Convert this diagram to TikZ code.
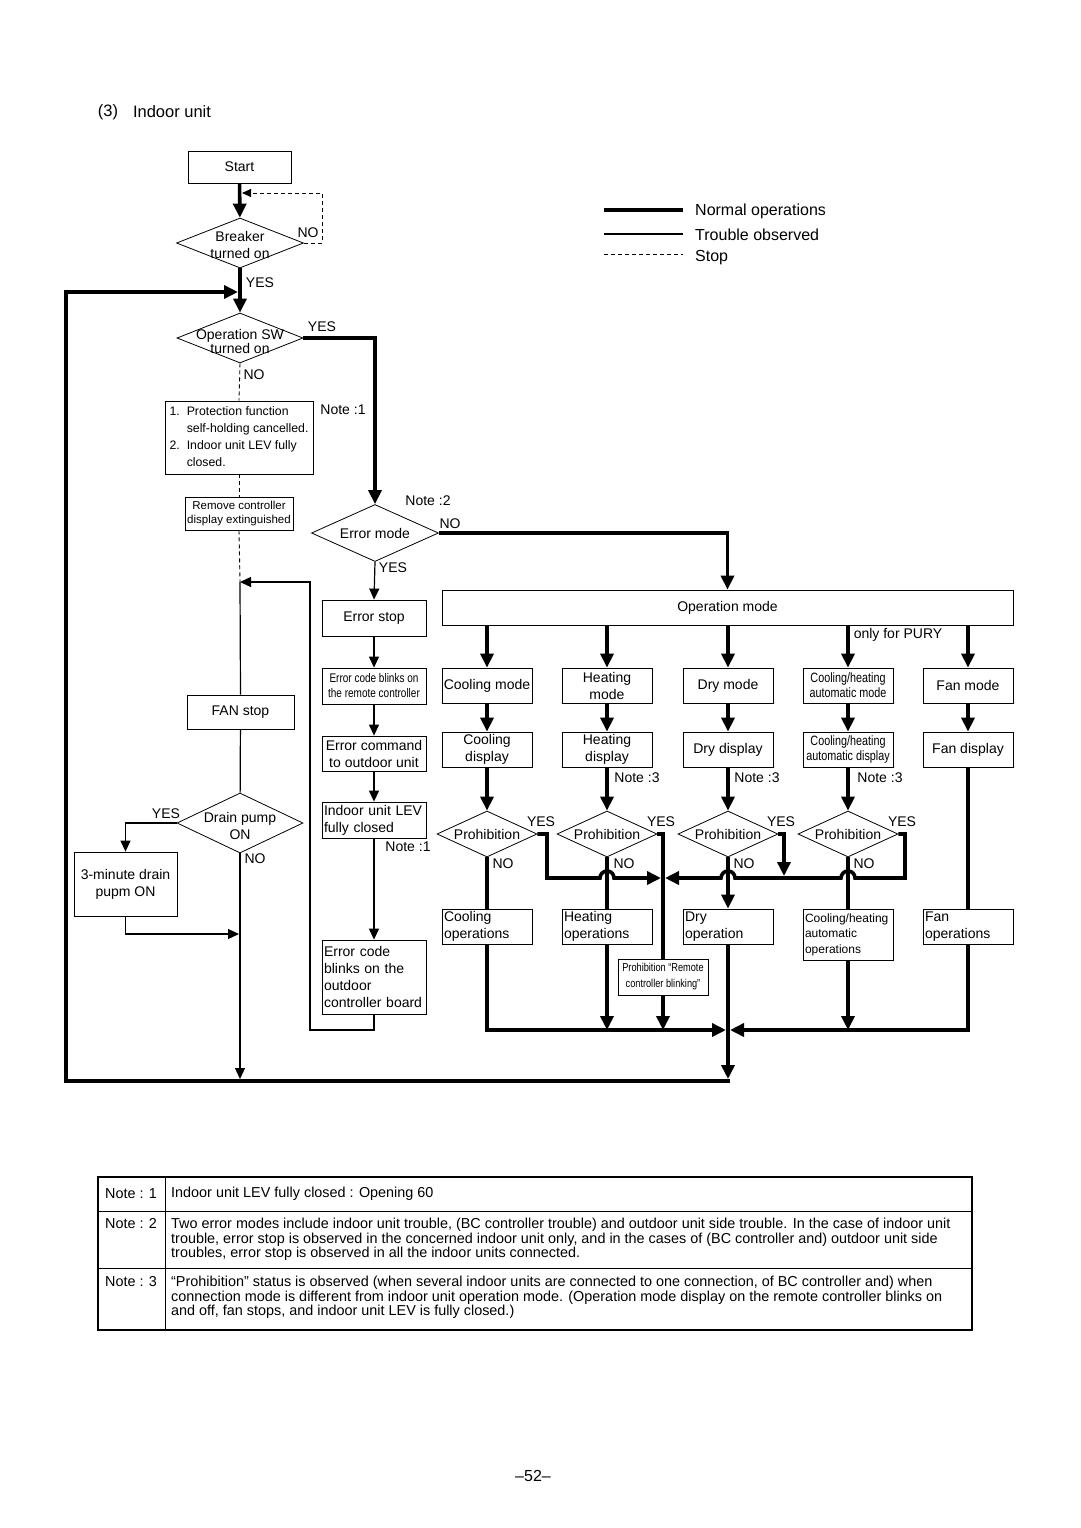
\documentclass[tikz,border=0pt]{standalone}
\usepackage{fontspec}
\setmainfont{Liberation Sans}
\newfontfamily\narrowfont[FakeStretch=0.8]{Liberation Sans}
\usetikzlibrary{arrows.meta,shapes.geometric}

\begin{document}
\begin{tikzpicture}[x=1pt,y=-1pt,font=\fontsize{14}{17}\selectfont,
    box/.style={draw,line width=0.8pt,inner sep=0pt,align=center,minimum width=90pt,minimum height=35pt},
    lbox/.style={draw,line width=0.8pt,inner xsep=2pt,inner ysep=0pt,align=left,text width=86pt,minimum height=35pt},
    decision/.style={diamond,draw,line width=0.8pt,inner sep=0pt,minimum width=100pt,minimum height=46pt},
    small/.style={font=\narrowfont\fontsize{12.5}{15}\selectfont},
    normal/.style={line width=3.6pt},
    trouble/.style={line width=1.2pt},
    stopline/.style={line width=0.9pt,dash pattern=on 4pt off 3pt},
    nar/.style={-{Triangle[length=14pt,width=13pt]}},
    tar/.style={-{Triangle[length=11pt,width=10pt]}},
    dar/.style={-{Triangle[length=9pt,width=8pt]}}]
    \useasboundingbox (0,0) rectangle (1080,1528);

    % heading and legend
    \node[font=\fontsize{16.5}{20}\selectfont] (hdnum) at (108,112) {(3)};
    \node[font=\fontsize{16.5}{20}\selectfont] (hdtxt) at (172,112) {Indoor unit};
    \coordinate (lgA) at (604,210);
    \coordinate (lgB) at (604,234);
    \coordinate (lgC) at (604,254);
    \draw[normal] (lgA) -- ++(79,0);
    \draw[trouble] (lgB) -- ++(79,0);
    \draw[stopline] (lgC) -- ++(79,0);
    \node[anchor=west,inner sep=0pt,font=\fontsize{16}{19}\selectfont] (lgN) at (695,211) {Normal operations};
    \node[anchor=west,inner sep=0pt,font=\fontsize{16}{19}\selectfont] (lgT) at (695,235) {Trouble observed};
    \node[anchor=west,inner sep=0pt,font=\fontsize{16}{19}\selectfont] (lgS) at (695,258) {Stop};

    % left column
    \node[box,minimum width=103pt,minimum height=32pt] (start) at (239.5,167) {Start};
    \node[decision,minimum width=127pt,minimum height=50pt,label={[align=center,yshift=-2pt]center:Breaker\\turned on}] (brk) at (240,243) {};
    \node[decision,minimum width=126pt,minimum height=50pt,label={[align=center,yshift=-3pt,font=\fontsize{14}{14}\selectfont]center:Operation SW\\turned on}] (opsw) at (240,338) {};
    \node[box,minimum width=148pt,minimum height=73pt,font=\fontsize{12.3}{17}\selectfont] (prot) at (239,437.5)
        {\begin{tabular}{@{}l@{\hspace{7pt}}l@{}}1. & Protection function\\ & self-holding cancelled.\\ 2. & Indoor unit LEV fully\\ & closed.\end{tabular}};
    \node[box,minimum width=108pt,minimum height=33pt,font=\fontsize{11.5}{14.5}\selectfont] (rmt) at (239,513.5) {Remove controller\\display extinguished};
    \node[box,minimum width=107pt,minimum height=34pt] (fan) at (240.5,712) {FAN stop};
    \node[decision,minimum width=126pt,minimum height=60pt,label={[align=center,yshift=-2.5pt]center:Drain pump\\ON}] (drn) at (240,823) {};
    \node[box,minimum width=103pt,minimum height=64pt] (drn3) at (125.5,884) {3-minute drain\\pupm ON};

    % error branch
    \node[decision,minimum width=127pt,minimum height=57pt,label=center:Error mode] (err) at (375,533) {};
    \node[box,minimum width=104pt,minimum height=36pt] (estop) at (374,618) {Error stop};
    \node[box,minimum width=104pt,minimum height=36pt,small] (eblink) at (374,686) {Error code blinks on\\the remote controller};
    \node[box,minimum width=104pt,minimum height=35pt] (ecmd) at (374,753.5) {Error command\\to outdoor unit};
    \node[lbox,text width=100pt,minimum height=36pt] (elev) at (374,820) {Indoor unit LEV\\fully closed};
    \node[lbox,text width=100pt,minimum height=74pt] (eboard) at (374,977) {Error code\\blinks on the\\outdoor\\controller board};

    % operation modes
    \node[box,minimum width=571pt,minimum height=35pt] (opm) at (727.5,607.5) {Operation mode};
    \node[box] (m1) at (487,685.5) {Cooling mode};
    \node[box] (m2) at (607,685.5) {Heating\\mode};
    \node[box] (m3) at (728,685.5) {Dry mode};
    \node[box,font=\narrowfont\fontsize{13.5}{15}\selectfont] (m4) at (848,685.5) {Cooling/heating\\automatic mode};
    \node[box] (m5) at (968,685.5) {Fan mode};
    \node[box] (d1) at (487,749.5) {Cooling\\display};
    \node[box] (d2) at (607,749.5) {Heating\\display};
    \node[box] (d3) at (728,749.5) {Dry display};
    \node[box,font=\narrowfont\fontsize{13.5}{15}\selectfont] (d4) at (848,749.5) {Cooling/heating\\automatic display};
    \node[box] (d5) at (968,749.5) {Fan display};
    \node[decision,label=center:Prohibition] (p1) at (487,834) {};
    \node[decision,label=center:Prohibition] (p2) at (607,834) {};
    \node[decision,label=center:Prohibition] (p3) at (728,834) {};
    \node[decision,label=center:Prohibition] (p4) at (848,834) {};
    \node[lbox] (o1) at (487,926.5) {Cooling\\operations};
    \node[lbox] (o2) at (607,926.5) {Heating\\operations};
    \node[lbox] (o3) at (728,926.5) {Dry\\operation};
    \node[lbox,minimum height=51pt,font=\fontsize{12}{15.5}\selectfont] (o4) at (848,934.5) {Cooling/heating\\automatic\\operations};
    \node[lbox] (o5) at (968,926.5) {Fan\\operations};
    \node[box,minimum height=36pt,font=\narrowfont\fontsize{11.5}{16}\selectfont] (prr) at (663,977) {Prohibition “Remote\\controller blinking”};

    % labels
    \node (noBrk) at (308,233) {NO};
    \node (yesBrk) at (260,283) {YES};
    \node (yesOp) at (322,327) {YES};
    \node (noOp) at (254,375) {NO};
    \node (nt1a) at (343,410) {Note :1};
    \node (nt2) at (428,501) {Note :2};
    \node (noErr) at (450,524) {NO};
    \node (yesErr) at (393,568) {YES};
    \node (nt1b) at (408,847) {Note :1};
    \node (yesDrn) at (166,814) {YES};
    \node (noDrn) at (255,859) {NO};
    \node (pury) at (898,635) {only for PURY};
    \node (nt3a) at (637,778) {Note :3};
    \node (nt3b) at (757,778) {Note :3};
    \node (nt3c) at (880,778) {Note :3};
    \node (yes1) at (541,822) {YES};
    \node (yes2) at (661,822) {YES};
    \node (yes3) at (781,822) {YES};
    \node (yes4) at (902,822) {YES};
    \node (no1) at (503,864) {NO};
    \node (no2) at (624,864) {NO};
    \node (no3) at (744,864) {NO};
    \node (no4) at (864,864) {NO};

    % coordinates for joints
    \coordinate (loop) at (238,292);
    \coordinate (back) at (240,582);
    \coordinate (dj) at (239,934);
    \coordinate (bot) at (240,1079);
    \coordinate (ret) at (728,1081);

    % normal operations
    \draw[normal,nar] (start) -- (brk);
    \draw[normal,nar] (brk) -- (opsw);
    \draw[normal,nar] (opsw.east) -| (err.north);
    \draw[normal,nar] (err.east) -| (opm.north);
    \foreach \c in {1,...,5} \draw[normal,nar] (opm.south -| m\c) -- (m\c);
    \foreach \c in {1,...,5} \draw[normal,nar] (m\c) -- (d\c);
    \foreach \c in {1,...,4} \draw[normal,nar] (d\c) -- (p\c);
    \draw[normal] (d5) -- (o5);
    \draw[normal] (p1) -- (o1);
    \draw[normal] (p2) -- (o2);
    \draw[normal,nar] (p3) -- (o3);
    \draw[normal] (p4) -- (o4);
    \draw[normal,nar] (p1.east) -- (547,834) -- (547,878) -- (600,878)
        arc[start angle=180,end angle=0,radius=7pt] -- (661,878);
    \draw[normal] (p2.east) -| (prr.north);
    \draw[normal,nar] (p3.east) -- (784,834) -- (784,876);
    \draw[normal,nar] (p4.east) -- (905,834) -- (905,878) -- (855,878)
        arc[start angle=0,end angle=180,radius=7pt] -- (735,878)
        arc[start angle=0,end angle=180,radius=7pt] -- (665,878);
    \draw[normal,nar] (o1.south) -- (487,1030) -- (726,1030);
    \draw[normal,nar] (o2.south) -- (607,1030);
    \draw[normal,nar] (prr.south) -- (663,1030);
    \draw[normal,nar] (o4.south) -- (848,1030);
    \draw[normal,nar] (o5.south) -- (968,1030) -- (730,1030);
    \draw[normal,nar] (o3.south) -- (728,1079);
    \draw[normal,nar] (729.8,1081) -- (66,1081) -- (66,292) -- (loop);

    % trouble observed
    \draw[trouble,tar] (err.south) -- (estop.north);
    \draw[trouble,tar] (estop) -- (eblink);
    \draw[trouble,tar] (eblink) -- (ecmd);
    \draw[trouble,tar] (ecmd) -- (elev);
    \draw[trouble,tar] (elev) -- (eboard);
    \draw[trouble,tar] (eboard.south) |- (310,1030) |- (back);
    \draw[trouble] (back) -- (fan.north);
    \draw[trouble] (fan) -- (drn);
    \draw[trouble,tar] (drn.west) -| (drn3.north);
    \draw[trouble,tar] (drn3.south) |- (dj);
    \draw[trouble,tar] (drn.south) -- (bot);

    % stop
    \draw[stopline,dar] (brk.east) -- (322,243) -- (322,193) -- (242,193);
    \draw[stopline] (opsw.south) -- (prot.north);
    \draw[stopline] (prot) -- (rmt);
    \draw[stopline] (rmt.south) -- (back);

    % notes
    \draw[line width=1.8pt] (98,1177) rectangle (972,1330);
    \draw[line width=1pt] (165,1177) -- (165,1330) (98,1211) -- (972,1211) (98,1268) -- (972,1268);
    \begin{scope}[font=\fontsize{14.4}{14.5}\selectfont]
    \node[anchor=west,inner sep=0pt] (n1) at (105,1194) {Note : 1};
    \node[anchor=west,inner sep=0pt] (n2) at (105,1224) {Note : 2};
    \node[anchor=west,inner sep=0pt] (n3) at (105,1282) {Note : 3};
    \node[anchor=west,inner sep=0pt] (t1) at (171,1194) {Indoor unit LEV fully closed : Opening 60};
    \node[anchor=north west,inner sep=0pt,align=left] (t2) at (171,1218)
        {Two error modes include indoor unit trouble, (BC controller trouble) and outdoor unit side trouble. In the case of indoor unit\\
         trouble, error stop is observed in the concerned indoor unit only, and in the cases of (BC controller and) outdoor unit side\\
         troubles, error stop is observed in all the indoor units connected.};
    \node[anchor=north west,inner sep=0pt,align=left] (t3) at (171,1276)
        {“Prohibition” status is observed (when several indoor units are connected to one connection, of BC controller and) when\\
         connection mode is different from indoor unit operation mode. (Operation mode display on the remote controller blinks on\\
         and off, fan stops, and indoor unit LEV is fully closed.)};
    \end{scope}
    \node[font=\fontsize{16}{19}\selectfont] (page) at (533,1476) {–52–};
\end{tikzpicture}
\end{document}
